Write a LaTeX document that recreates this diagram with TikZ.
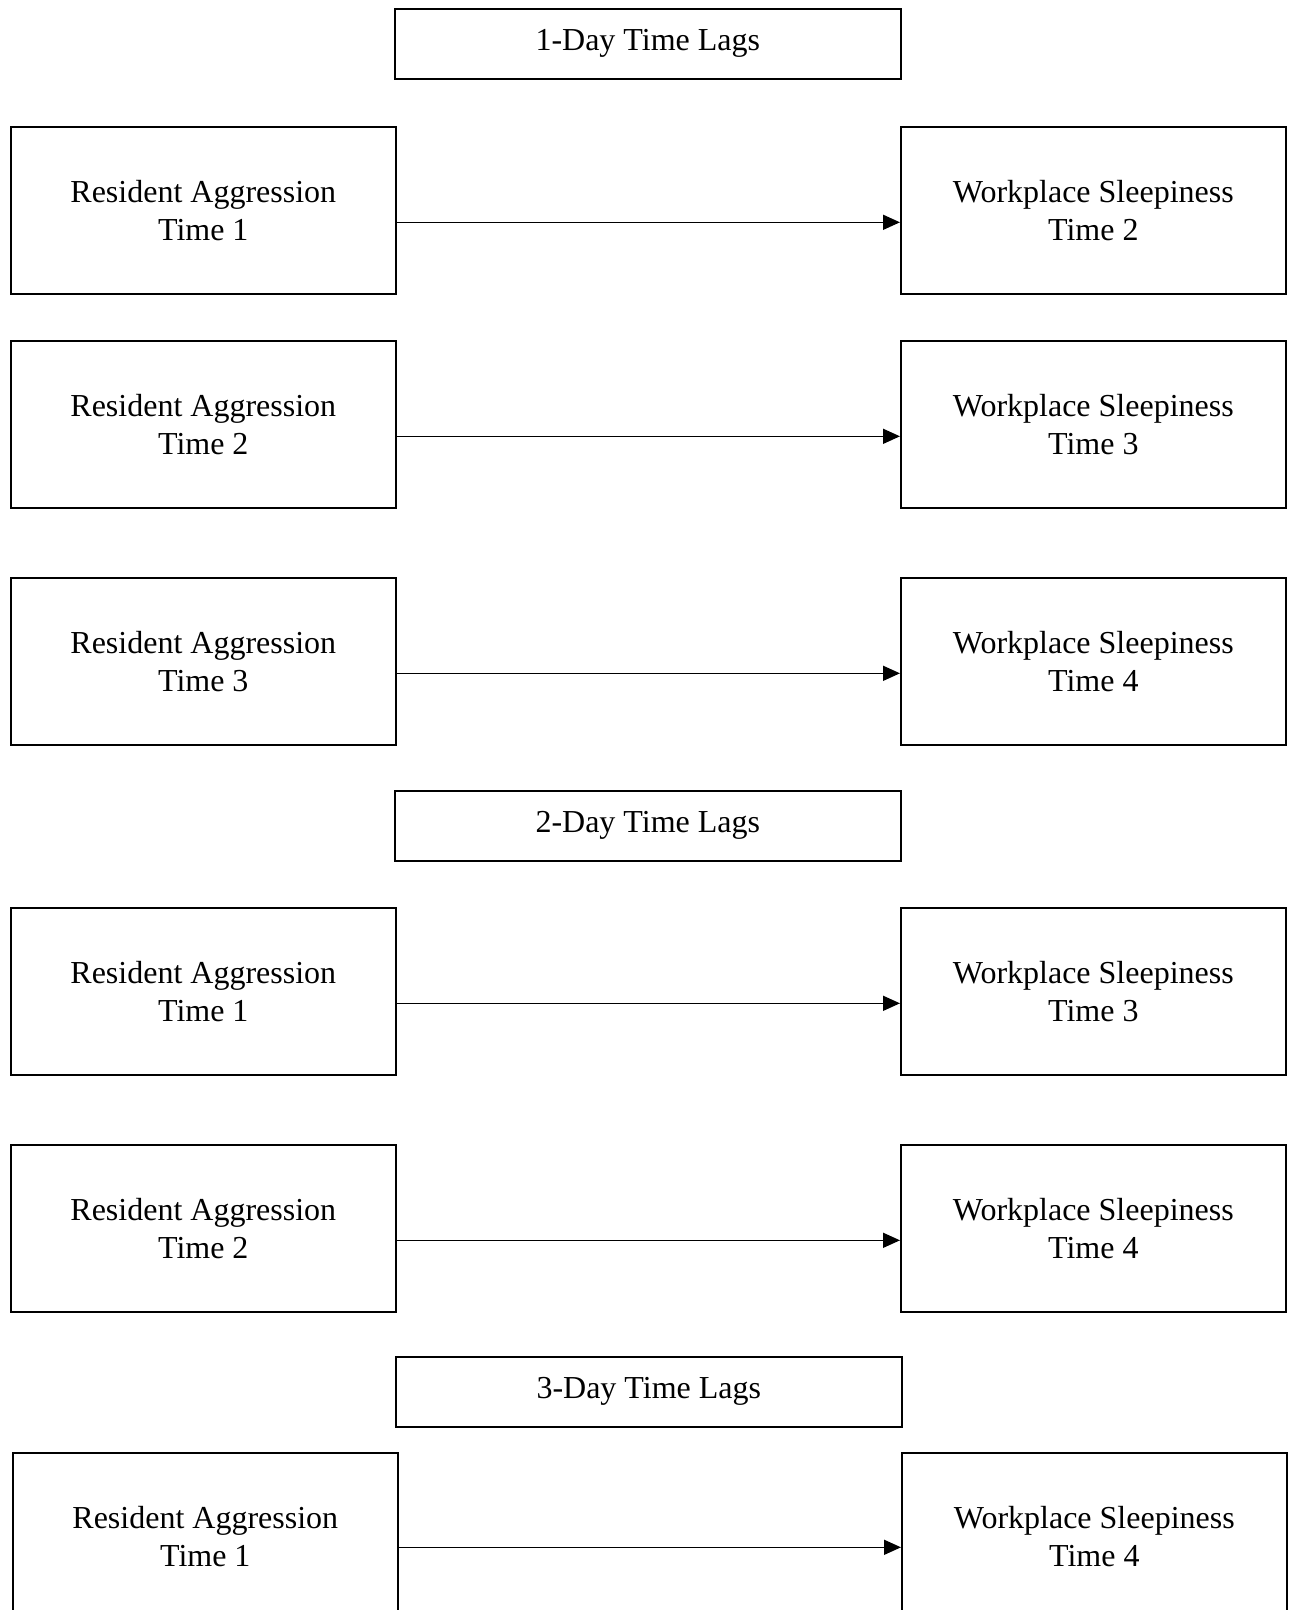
\documentclass[tikz,border=0pt]{standalone}
\usepackage{fontspec}
\setmainfont{Liberation Serif}
\usepackage{tikz}
\usetikzlibrary{arrows.meta,positioning}
\tikzset{%
       varbox/.style = { draw, line width=1.6pt, minimum width=385pt, minimum height=167pt, anchor=north west, align=center, inner sep=0pt, font=\fontsize{32}{38}\selectfont },
       lagbox/.style = { draw, line width=1.6pt, minimum width=506pt, minimum height=70pt, anchor=north west, inner sep=0pt, font=\fontsize{32}{38}\selectfont },
       effect/.style = { line width=1.6pt, -{Triangle[length=17pt,width=15pt]} }
}
\begin{document}
\begin{tikzpicture}[x=1pt,y=-1pt]
\useasboundingbox (0,0) rectangle (1293,1610);
% 1-day lags
\node [lagbox] (lag1) at (394,8) {1-Day Time Lags};
\node [varbox] (ra1) at (10,126) {Resident Aggression\\Time 1};
\node [varbox] (ws2) at (900,126) {Workplace Sleepiness\\Time 2};
\node [varbox] (ra2) at (10,340) {Resident Aggression\\Time 2};
\node [varbox] (ws3) at (900,340) {Workplace Sleepiness\\Time 3};
\node [varbox] (ra3) at (10,577) {Resident Aggression\\Time 3};
\node [varbox] (ws4) at (900,577) {Workplace Sleepiness\\Time 4};
\draw [effect] ([yshift=-12pt]ra1.east) -- ([yshift=-12pt]ws2.west);
\draw [effect] ([yshift=-12pt]ra2.east) -- ([yshift=-12pt]ws3.west);
\draw [effect] ([yshift=-12pt]ra3.east) -- ([yshift=-12pt]ws4.west);
% 2-day lags
\node [lagbox] (lag2) at (394,790) {2-Day Time Lags};
\node [varbox] (ra1b) at (10,907) {Resident Aggression\\Time 1};
\node [varbox] (ws3b) at (900,907) {Workplace Sleepiness\\Time 3};
\node [varbox] (ra2b) at (10,1144) {Resident Aggression\\Time 2};
\node [varbox] (ws4b) at (900,1144) {Workplace Sleepiness\\Time 4};
\draw [effect] ([yshift=-12pt]ra1b.east) -- ([yshift=-12pt]ws3b.west);
\draw [effect] ([yshift=-12pt]ra2b.east) -- ([yshift=-12pt]ws4b.west);
% 3-day lags
\node [lagbox] (lag3) at (395,1356) {3-Day Time Lags};
\node [varbox] (ra1c) at (12,1452) {Resident Aggression\\Time 1};
\node [varbox] (ws4c) at (901,1452) {Workplace Sleepiness\\Time 4};
\draw [effect] ([yshift=-11pt]ra1c.east) -- ([yshift=-11pt]ws4c.west);
\end{tikzpicture}
\end{document}
